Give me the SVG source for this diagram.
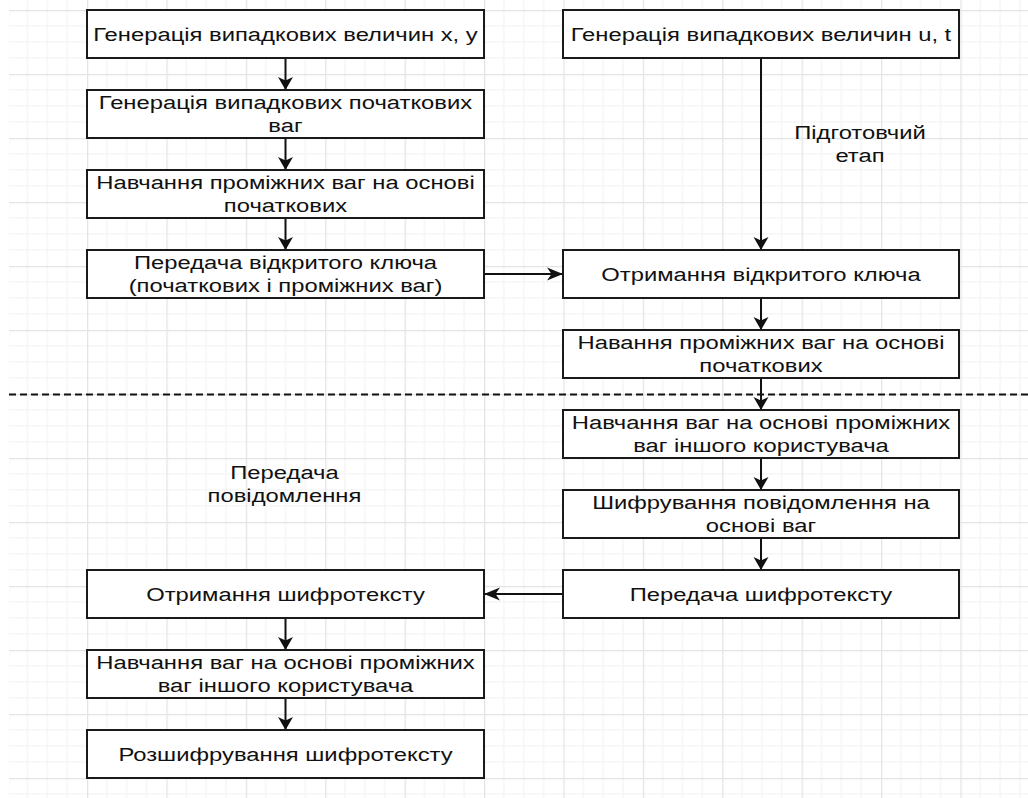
<svg xmlns="http://www.w3.org/2000/svg" width="1028" height="798" viewBox="0 0 1028 798">
<style>
.box{fill:#fff;stroke:#1a1a1a;stroke-width:2}
.t{font-family:"Liberation Sans",Arial,sans-serif;font-size:19.2px;fill:#111;text-anchor:middle}
.edge{fill:none;stroke:#111;stroke-width:2}
</style>
<defs>
<pattern id="grid" patternUnits="userSpaceOnUse" x="87" y="10" width="79.4" height="64">
<g stroke="#f2f2f2" stroke-width="1">
<line x1="19.85" y1="0" x2="19.85" y2="64"/><line x1="39.7" y1="0" x2="39.7" y2="64"/><line x1="59.55" y1="0" x2="59.55" y2="64"/>
<line x1="0" y1="16" x2="79.4" y2="16"/><line x1="0" y1="32" x2="79.4" y2="32"/><line x1="0" y1="48" x2="79.4" y2="48"/>
</g>
<g stroke="#e4e4e4" stroke-width="1.5">
<line x1="0.5" y1="0" x2="0.5" y2="64"/><line x1="0" y1="0.5" x2="79.4" y2="0.5"/>
</g>
</pattern>
<marker id="arrV" markerUnits="userSpaceOnUse" markerWidth="16" markerHeight="18" refX="13" refY="8" orient="auto">
<path d="M0,0.5 L13,8 L0,15.5 L3.5,8 Z" fill="#111"/>
</marker>
<marker id="arrH" markerUnits="userSpaceOnUse" markerWidth="18" markerHeight="16" refX="16" refY="7" orient="auto">
<path d="M0,0.5 L16,7 L0,13.5 L4.5,7 Z" fill="#111"/>
</marker>
</defs>
<rect x="0" y="0" width="1028" height="798" fill="#fff"/>
<rect x="9" y="0" width="1019" height="798" fill="url(#grid)"/>

<g id="separator">
<line x1="9" y1="394.5" x2="1028" y2="394.5" stroke="#111" stroke-width="1.8" stroke-dasharray="7 4"/>
</g>

<g id="connectors">
<line class="edge" x1="285.5" y1="58" x2="285.5" y2="90" marker-end="url(#arrV)"/>
<line class="edge" x1="285.5" y1="138" x2="285.5" y2="170" marker-end="url(#arrV)"/>
<line class="edge" x1="285.5" y1="218" x2="285.5" y2="250" marker-end="url(#arrV)"/>
<line class="edge" x1="484" y1="274" x2="563" y2="274" marker-end="url(#arrH)"/>
<line class="edge" x1="761" y1="58" x2="761" y2="250" marker-end="url(#arrV)"/>
<line class="edge" x1="761" y1="298" x2="761" y2="330" marker-end="url(#arrV)"/>
<line class="edge" x1="761" y1="378" x2="761" y2="410" marker-end="url(#arrV)"/>
<line class="edge" x1="761" y1="458" x2="761" y2="490" marker-end="url(#arrV)"/>
<line class="edge" x1="761" y1="538" x2="761" y2="570" marker-end="url(#arrV)"/>
<line class="edge" x1="563" y1="594" x2="484" y2="594" marker-end="url(#arrH)"/>
<line class="edge" x1="285.5" y1="618" x2="285.5" y2="650" marker-end="url(#arrV)"/>
<line class="edge" x1="285.5" y1="698" x2="285.5" y2="730" marker-end="url(#arrV)"/>
</g>

<g id="L1"><rect class="box" x="87" y="10" width="397" height="48"/>
<text class="t" transform="matrix(1.24,0,0,1,285.5,0)" x="0" y="41">Генерація випадкових величин x, y</text></g>
<g id="L2"><rect class="box" x="87" y="90" width="397" height="48"/>
<text class="t" transform="matrix(1.24,0,0,1,285.5,0)"><tspan x="0" y="109.5">Генерація випадкових початкових</tspan><tspan x="0" y="132.5">ваг</tspan></text></g>
<g id="L3"><rect class="box" x="87" y="170" width="397" height="48"/>
<text class="t" transform="matrix(1.24,0,0,1,285.5,0)"><tspan x="0" y="189.5">Навчання проміжних ваг на основі</tspan><tspan x="0" y="212.5">початкових</tspan></text></g>
<g id="L4"><rect class="box" x="87" y="250" width="397" height="48"/>
<text class="t" transform="matrix(1.24,0,0,1,285.5,0)"><tspan x="0" y="269.5">Передача відкритого ключа</tspan><tspan x="0" y="292.5">(початкових і проміжних ваг)</tspan></text></g>

<g id="R1"><rect class="box" x="563" y="10" width="396" height="48"/>
<text class="t" transform="matrix(1.24,0,0,1,761,0)" x="0" y="41">Генерація випадкових величин u, t</text></g>
<g id="R2"><rect class="box" x="563" y="250" width="396" height="48"/>
<text class="t" transform="matrix(1.24,0,0,1,761,0)" x="0" y="281">Отримання відкритого ключа</text></g>
<g id="R3"><rect class="box" x="563" y="330" width="396" height="48"/>
<text class="t" transform="matrix(1.24,0,0,1,761,0)"><tspan x="0" y="349.5">Навання проміжних ваг на основі</tspan><tspan x="0" y="372.5">початкових</tspan></text></g>
<g id="R4"><rect class="box" x="563" y="410" width="396" height="48"/>
<text class="t" transform="matrix(1.24,0,0,1,761,0)"><tspan x="0" y="429.5">Навчання ваг на основі проміжних</tspan><tspan x="0" y="452.5">ваг іншого користувача</tspan></text></g>
<g id="R5"><rect class="box" x="563" y="490" width="396" height="48"/>
<text class="t" transform="matrix(1.24,0,0,1,761,0)"><tspan x="0" y="509.5">Шифрування повідомлення на</tspan><tspan x="0" y="532.5">основі ваг</tspan></text></g>
<g id="R6"><rect class="box" x="563" y="570" width="396" height="48"/>
<text class="t" transform="matrix(1.24,0,0,1,761,0)" x="0" y="601">Передача шифротексту</text></g>

<g id="L5"><rect class="box" x="87" y="570" width="397" height="48"/>
<text class="t" transform="matrix(1.24,0,0,1,285.5,0)" x="0" y="601">Отримання шифротексту</text></g>
<g id="L6"><rect class="box" x="87" y="650" width="397" height="48"/>
<text class="t" transform="matrix(1.24,0,0,1,285.5,0)"><tspan x="0" y="669.5">Навчання ваг на основі проміжних</tspan><tspan x="0" y="692.5">ваг іншого користувача</tspan></text></g>
<g id="L7"><rect class="box" x="87" y="730" width="397" height="48"/>
<text class="t" transform="matrix(1.24,0,0,1,285.5,0)" x="0" y="761">Розшифрування шифротексту</text></g>

<g id="label-prep">
<text class="t" transform="matrix(1.24,0,0,1,860,0)"><tspan x="0" y="139.5">Підготовчий</tspan><tspan x="0" y="162">етап</tspan></text></g>
<g id="label-msg">
<text class="t" transform="matrix(1.24,0,0,1,284.5,0)"><tspan x="0" y="479.5">Передача</tspan><tspan x="0" y="502">повідомлення</tspan></text></g>
</svg>
